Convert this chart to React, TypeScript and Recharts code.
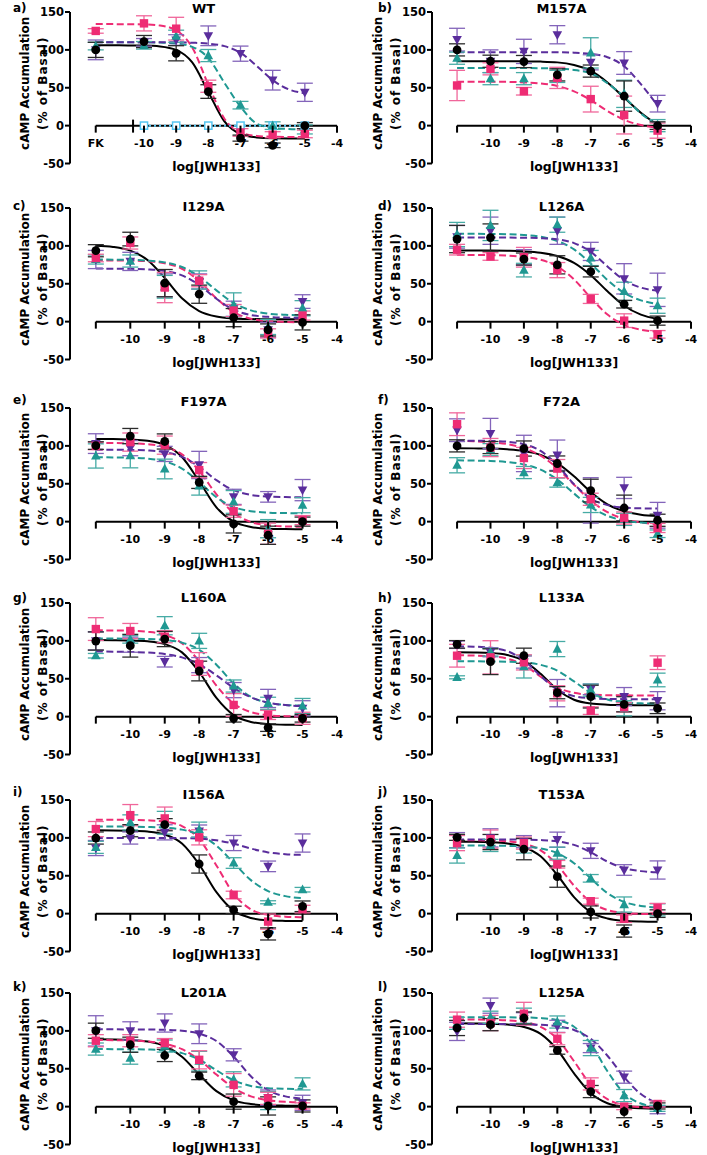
import React from 'react';
import { ComposedChart, Line, Scatter, XAxis, YAxis, ErrorBar, ReferenceLine } from 'recharts';

const FONT = '"DejaVu Sans", Verdana, sans-serif';

// log[JWH133] doses; in WT the first point is forskolin alone (FK)
const DOSES = [-11, -10, -9, -8, -7, -6, -5];
const WT_DOSES = [-11.5, -10, -9, -8, -7, -6, -5];
const FK_DOSES = [-10, -9, -8, -7, -6, -5];
const FK_VALUES = [0, 0, 0, 0, 0, 0];
const FIT_X = [-11, -10.5, -10, -9.5, -9, -8.5, -8, -7.5, -7, -6.5, -6, -5.5, -5];
const WT_FIT_X = [-11.5, -11, -10.5, -10, -9.5, -9, -8.5, -8, -7.5, -7, -6.5, -6, -5.5, -5];
const X_TICKS = [-11, -10, -9, -8, -7, -6, -5, -4];
const WT_X_TICKS = [-11.5, -10.34, -10, -9, -8, -7, -6, -5, -4];
const Y_TICKS = [-50, 0, 50, 100, 150];

// series order in every panel: black circles, pink squares, teal triangles, purple inverted triangles
const WT_MEAN = [
  [100, 111, 95.5, 45, -16.5, -26, 0],
  [125, 135, 128, 52, -9, -12, -11],
  [105, 106, 118, 92.5, 27, 0, -5],
  [100, 110, 113, 118.6, 95, 60, 44],
];
const WT_SEM = [
  [10, 8, 10, 9, 4, 3, 4],
  [3, 10, 15, 8, 5, 4, 5],
  [5, 5, 8, 8, 5, 5, 6],
  [13, 5, 7, 13, 10, 13, 12],
];
const WT_FIT = [
  [106, 106, 105.9, 105.7, 104.6, 100.1, 83.5, 44.5, 5.5, -11.1, -15.6, -16.8, -17, -17],
  [134, 134, 133.9, 133.6, 132.1, 125.8, 103.2, 54, 9.1, -8.8, -13.6, -14.7, -15, -15],
  [110, 110, 110, 110, 109.6, 108.4, 104, 89.3, 56.5, 25, 2.8, -3, -4.5, -5],
  [110, 110, 110, 110, 110, 110, 109.4, 108.3, 104.9, 96, 79, 60, 47.9, 42.7],
];

const M157A_MEAN = [
  [100, 85, 84.6, 67, 72, 39, 0],
  [53, 75, 45.4, 63, 35, 14, -6.6],
  [89, 62, 62, 65, 96, 42, 0],
  [113.5, 85, 98, 120, 83.6, 82.7, 29],
];
const M157A_SEM = [
  [8, 8, 8, 8, 8, 20, 5],
  [20, 8, 5, 14, 17, 25, 10],
  [8, 8, 8, 8, 20, 18, 8],
  [15, 15, 16, 12, 10, 15, 11],
];
const M157A_FIT = [
  [85, 85, 85, 85, 84.8, 84.5, 83.5, 80, 72.5, 57, 37, 17, 1],
  [58, 58, 58, 57.8, 57, 55.6, 52.3, 45.3, 33.6, 19.4, 7.7, 0.7, -2.6],
  [76, 76, 76, 76, 76, 75.8, 75.3, 73.5, 69, 56, 38, 16, 1],
  [97, 97, 97, 97, 97, 97, 96.8, 96.3, 94.7, 90.3, 78.3, 54.7, 26.5],
];

const I129A_MEAN = [
  [93.6, 109, 50.8, 36.2, 5.3, -11, -1],
  [84, 103.8, 45, 54, 14.6, -15.5, 8],
  [82, 80, 46, 55, 22, -7, 17.7],
  [82, 79.5, 48, 53, 17, -11, 26.5],
];
const I129A_SEM = [
  [8, 9, 18, 12, 12, 8, 10],
  [5, 8, 20, 8, 8, 6, 6],
  [6, 8, 15, 12, 16, 10, 10],
  [12, 12, 15, 10, 10, 10, 9],
];
const I129A_FIT = [
  [100.2, 98.6, 93.7, 81.3, 57.6, 30.9, 14, 6.7, 4.2, 3.4, 3.1, 3, 3],
  [80.9, 80.8, 80.6, 79.7, 77.1, 69.8, 53.6, 30.7, 12.6, 3.8, 0.6, -0.4, -0.8],
  [81.9, 81.8, 81.5, 80.6, 78.2, 72.1, 59.5, 41.2, 24.6, 14.9, 10.6, 9, 8.4],
  [70, 69.9, 69.7, 69, 66.9, 61.1, 48.3, 30.2, 15.8, 8.8, 6.3, 5.4, 5.1],
];

const L126A_MEAN = [
  [109, 111, 82.6, 75, 66, 23, 1.3],
  [95, 86, 85, 68, 30, 1.3, -16.8],
  [115, 127, 68, 128, 84, 40, 21],
  [112, 120, 85, 120, 92.7, 56.5, 42],
];
const L126A_SEM = [
  [18, 18, 8, 12, 7, 5, 6],
  [7, 5, 13, 10, 6, 9, 5],
  [16, 20, 9, 10, 10, 12, 10],
  [15, 18, 10, 18, 12, 20, 22],
];
const L126A_FIT = [
  [94, 93.9, 93.8, 93.5, 92.8, 91, 86.7, 77.6, 61.3, 40, 21, 9.2, 3.4],
  [88, 87.9, 87.7, 87.1, 85.4, 81.7, 72.9, 55.7, 31.5, 9.3, -4.3, -10.7, -13.4],
  [116, 115.9, 115.7, 115.3, 114.4, 112, 106.5, 95.3, 76.8, 55, 37.9, 28.1, 23.4],
  [111, 111, 110.9, 110.9, 110.7, 110.2, 108.6, 103.7, 92.1, 72.9, 54.8, 44.9, 40.9],
];

const F197A_MEAN = [
  [100.4, 113, 105.8, 51.8, -3, -18, 0],
  [100, 105, 101, 68, 13.7, -16, 2],
  [86.7, 87, 69.5, 47, 26, -9.3, 21.7],
  [103, 97, 89.4, 74.8, 32.7, 32.7, 41.6],
];
const F197A_SEM = [
  [5, 10, 10, 8, 12, 12, 6],
  [5, 12, 12, 10, 8, 14, 6],
  [16, 16, 13, 12, 15, 12, 10],
  [13, 10, 10, 18, 10, 7, 14],
];
const F197A_FIT = [
  [109, 109, 108.3, 106.7, 101.3, 85.3, 53.3, 18.8, -0.1, -7, -9.3, -9.8, -10],
  [104, 103.8, 103.4, 102.2, 98.7, 88.8, 66.9, 36, 11.4, -0.5, -4.8, -6.3, -6.8],
  [85, 84.8, 84.4, 83.2, 79.5, 70.1, 52.2, 32.1, 19.3, 13.8, 11.9, 11.3, 11.1],
  [95, 94.9, 94.6, 93.9, 91.7, 85.5, 72.3, 54.7, 41.5, 35.3, 33.1, 32.4, 32.1],
];

const F72A_MEAN = [
  [100, 97.8, 96.5, 76.7, 41, 18, 1.8],
  [128.6, 97.8, 84, 70, 29.5, 4.8, -8.4],
  [74.4, 95, 64.8, 51.5, 22, 3, -16],
  [120.7, 116.3, 90, 87.7, 28, 44.5, 8.4],
];
const F72A_SEM = [
  [8, 8, 10, 10, 15, 17, 8],
  [15, 12, 14, 12, 8, 8, 6],
  [10, 8, 8, 6, 10, 8, 5],
  [15, 20, 24, 20, 30, 14, 17],
];
const F72A_FIT = [
  [96.9, 96.7, 96.4, 95.4, 93.2, 88, 77.3, 59.8, 39.2, 22.9, 13.6, 9.2, 7.3],
  [106.6, 106, 104.9, 102.4, 97, 87.1, 70.5, 48.8, 27.7, 12.4, 3.5, -1.1, -3.2],
  [80.9, 80.6, 80.1, 78.7, 75.5, 68.6, 55.5, 37.1, 19.3, 7.6, 1.5, -1.2, -2.2],
  [107, 106.8, 106.5, 105.5, 102.2, 93.4, 74.6, 49.4, 30.6, 21.8, 18.5, 17.5, 17.2],
];

const L160A_MEAN = [
  [99.8, 93.6, 102.4, 60.2, -2.2, -14.5, -2.2],
  [115.6, 113, 105.5, 69.5, 15.4, 2.2, -2.2],
  [80.4, 102, 120, 100, 40.4, 17.6, 14],
  [100, 95, 72.5, 68, 35, 24, 11],
];
const L160A_SEM = [
  [12, 15, 10, 13, 5, 5, 5],
  [15, 10, 8, 15, 15, 6, 8],
  [3, 5, 12, 10, 8, 8, 10],
  [12, 10, 7, 10, 10, 12, 10],
];
const L160A_FIT = [
  [101, 100.9, 100.6, 99.5, 95.8, 84.8, 58.9, 24.7, 2, -7, -9.9, -10.7, -10.9],
  [113.9, 113.8, 113.4, 112, 108, 96.8, 73, 41, 17.2, 6, 1.9, 0.6, 0.2],
  [103, 103, 102.8, 102.5, 101.2, 97.7, 88.2, 68.6, 43.7, 26.2, 18.3, 15.4, 14.5],
  [85.9, 85.8, 85.4, 84.6, 82.6, 78.2, 69, 54.5, 38.1, 25.6, 18.6, 15.3, 13.9],
];

const L133A_MEAN = [
  [95.4, 72.5, 80.4, 31.6, 26.4, 16.3, 11],
  [80.4, 78.2, 71.6, 30.8, 7.9, 12.3, 71.2],
  [51.9, 85, 66, 89.2, 35, 11, 48.4],
  [95, 85, 72, 31, 36, 26.4, 21],
];
const L133A_SEM = [
  [5, 17, 10, 8, 15, 10, 7],
  [15, 22, 10, 10, 5, 6, 9],
  [2, 5, 15, 10, 8, 10, 9],
  [5, 6, 8, 18, 7, 12, 12],
];
const L133A_FIT = [
  [85, 84.7, 84, 81.4, 73.7, 56.6, 35.4, 22.3, 17.2, 15.7, 15.2, 15.1, 15],
  [81, 80.6, 79.7, 76.6, 68.2, 52.8, 38.5, 31.4, 29, 28.3, 28.1, 28, 28],
  [73, 73, 72.8, 72.5, 71.5, 68.4, 60.7, 46.6, 31.7, 22.7, 18.9, 17.6, 17.2],
  [92.8, 92.4, 91, 86.5, 74.4, 53.6, 35.6, 27.1, 24.2, 23.3, 23.1, 23, 23],
];

const I156A_MEAN = [
  [99.8, 109.5, 117.4, 65.5, 4.8, -26.8, 9.7],
  [111.6, 130, 125.7, 100.7, 24.6, -10.5, 6],
  [87.5, 120.4, 120, 110.8, 66.8, 15, 31.6],
  [86.6, 99.8, 107.3, 109, 93.2, 62.4, 93.2],
];
const I156A_SEM = [
  [8, 8, 8, 12, 5, 8, 7],
  [10, 14, 15, 10, 5, 10, 5],
  [8, 10, 15, 10, 7, 2, 3],
  [10, 8, 10, 8, 10, 7, 12],
];
const I156A_FIT = [
  [110, 109.9, 109.5, 108.4, 104.5, 92.6, 64.9, 28.3, 3.9, -5.7, -8.8, -9.6, -9.9],
  [124, 124, 123.8, 123.2, 121.5, 115.6, 98.3, 63.6, 26.2, 5.7, -1.8, -4, -4.7],
  [115, 115, 114.8, 114.4, 113.5, 110.9, 104.2, 89.8, 67, 44.2, 29.8, 23.1, 20.5],
  [100, 100, 100, 100, 99.9, 99.6, 98.9, 96.8, 92.3, 85.9, 80.8, 78.4, 77.5],
];

const T153A_MEAN = [
  [100.7, 94.5, 85.1, 48.8, 2.2, -23, 0],
  [93.1, 98.4, 93.1, 65.2, 16.4, -6.7, 7.5],
  [76.7, 90, 90, 79.8, 46.6, 12, 5],
  [97, 100, 95, 97.6, 82.9, 57.6, 57.6],
];
const T153A_SEM = [
  [4, 10, 14, 14, 8, 8, 5],
  [10, 12, 8, 5, 4, 5, 6],
  [10, 8, 10, 8, 5, 10, 8],
  [10, 12, 8, 10, 10, 7, 12],
];
const T153A_FIT = [
  [94.9, 94.8, 94.3, 92.7, 88, 75.6, 51, 21.8, 2.1, -6.4, -9.5, -10.5, -10.8],
  [97, 96.8, 96.5, 95.4, 92.3, 83.6, 64.3, 36.9, 15.3, 4.8, 1, -0.4, -0.8],
  [90, 89.9, 89.8, 89.5, 88.6, 86.1, 79.8, 66.6, 46.5, 27.1, 15.5, 10.2, 8.2],
  [98, 98, 98, 98, 97.7, 97.1, 95.4, 90.7, 81, 68.7, 60, 56.1, 54.7],
];

const L201A_MEAN = [
  [100.2, 81.7, 67.5, 40.6, 6.6, 0.9, 0.9],
  [87, 87, 83.9, 61.8, 28.7, 11, 1],
  [76, 64, 80, 60, 36, 8, 30],
  [100, 100, 110.4, 96.2, 68.4, 12, 5],
];
const L201A_SEM = [
  [10, 10, 8, 5, 10, 12, 8],
  [8, 8, 6, 12, 15, 8, 4],
  [8, 8, 8, 13, 10, 12, 8],
  [20, 12, 12, 13, 8, 10, 10],
];
const L201A_FIT = [
  [88.9, 88.7, 88, 86, 80, 65.9, 42.5, 20.4, 8.2, 3.4, 1.8, 1.3, 1.1],
  [87.9, 87.7, 87.3, 86, 82.9, 75.8, 61.9, 42.4, 24.6, 13.6, 8.5, 6.3, 5.5],
  [76, 75.9, 75.8, 75.4, 74.2, 70.6, 62.1, 48, 34.7, 27.3, 24.4, 23.5, 23.2],
  [102, 102, 101.9, 101.8, 101.4, 100.1, 96.5, 86.6, 66, 40.1, 21.7, 13.5, 10.5],
];

const L125A_MEAN = [
  [103.8, 108.2, 117, 74.2, 19.9, -6.6, 0.9],
  [114.8, 110.4, 122.7, 89.6, 30, 0, 3.5],
  [110, 118, 120, 111.7, 77.3, 14.6, -2.2],
  [99.3, 133.3, 116, 106, 77.3, 38.9, -4.4],
];
const L125A_SEM = [
  [10, 8, 8, 5, 8, 8, 4],
  [10, 10, 15, 8, 8, 4, 4],
  [8, 8, 10, 8, 10, 8, 4],
  [12, 10, 8, 8, 6, 8, 5],
];
const L125A_FIT = [
  [110, 109.8, 109.5, 108.4, 105.1, 96, 75.1, 43.9, 17.7, 4.5, -0.5, -2.2, -2.7],
  [115, 114.9, 114.7, 114, 111.8, 105.4, 89.3, 59.9, 28.7, 9.8, 2, -0.7, -1.6],
  [118, 118, 118, 117.9, 117.7, 116.9, 114.2, 105.5, 83, 46.7, 17.4, 4.1, -0.2],
  [109, 109, 108.95, 108.9, 108.6, 108, 106.1, 101.2, 89.5, 67.2, 38.9, 16.6, 4.8],
];

const PANELS = [
  { letter: 'a)', title: 'WT', fk: true, doses: WT_DOSES, fitX: WT_FIT_X, mean: WT_MEAN, sem: WT_SEM, fit: WT_FIT },
  { letter: 'b)', title: 'M157A', fk: false, doses: DOSES, fitX: FIT_X, mean: M157A_MEAN, sem: M157A_SEM, fit: M157A_FIT },
  { letter: 'c)', title: 'I129A', fk: false, doses: DOSES, fitX: FIT_X, mean: I129A_MEAN, sem: I129A_SEM, fit: I129A_FIT },
  { letter: 'd)', title: 'L126A', fk: false, doses: DOSES, fitX: FIT_X, mean: L126A_MEAN, sem: L126A_SEM, fit: L126A_FIT },
  { letter: 'e)', title: 'F197A', fk: false, doses: DOSES, fitX: FIT_X, mean: F197A_MEAN, sem: F197A_SEM, fit: F197A_FIT },
  { letter: 'f)', title: 'F72A', fk: false, doses: DOSES, fitX: FIT_X, mean: F72A_MEAN, sem: F72A_SEM, fit: F72A_FIT },
  { letter: 'g)', title: 'L160A', fk: false, doses: DOSES, fitX: FIT_X, mean: L160A_MEAN, sem: L160A_SEM, fit: L160A_FIT },
  { letter: 'h)', title: 'L133A', fk: false, doses: DOSES, fitX: FIT_X, mean: L133A_MEAN, sem: L133A_SEM, fit: L133A_FIT },
  { letter: 'i)', title: 'I156A', fk: false, doses: DOSES, fitX: FIT_X, mean: I156A_MEAN, sem: I156A_SEM, fit: I156A_FIT },
  { letter: 'j)', title: 'T153A', fk: false, doses: DOSES, fitX: FIT_X, mean: T153A_MEAN, sem: T153A_SEM, fit: T153A_FIT },
  { letter: 'k)', title: 'L201A', fk: false, doses: DOSES, fitX: FIT_X, mean: L201A_MEAN, sem: L201A_SEM, fit: L201A_FIT },
  { letter: 'l)', title: 'L125A', fk: false, doses: DOSES, fitX: FIT_X, mean: L125A_MEAN, sem: L125A_SEM, fit: L125A_FIT },
];

const COLORS = ['#000000', '#EE2C74', '#1F9892', '#5A2D9C'];
const BAR_COLORS = ['#2b2b2b', '#F0669A', '#46ABA5', '#8364BA'];
const FK_COLOR = '#56C6F2';

// layout (px)
const ROW_TOP = [11.5, 207.7, 408, 603, 799.7, 993.3]; // y of the 150 tick per row
const TITLE_DY = [4, 1.5, 7.5, 6.5, 6, 1.5];
const LETTER_DY = [3.5, 1.7, 8, 5, 7.7, 6.6];
const MT = 12;
const PH = 151.5;
const XH = 26;
const MR = 16;
const H = MT + PH + XH;
const Y0 = MT + PH * 0.75; // pixel row of y = 0 inside a panel

const textStyle = { fontFamily: FONT, fontWeight: 700, fill: '#000' };

const shapes = [
  (p: any) => <circle cx={p.cx} cy={p.cy} r={4.4} fill={COLORS[0]} />,
  (p: any) => <rect x={p.cx - 4.2} y={p.cy - 4.2} width={8.4} height={8.4} fill={COLORS[1]} />,
  (p: any) => (
    <polygon points={`${p.cx},${p.cy - 5.2} ${p.cx + 4.8},${p.cy + 3.6} ${p.cx - 4.8},${p.cy + 3.6}`} fill={COLORS[2]} />
  ),
  (p: any) => (
    <polygon points={`${p.cx},${p.cy + 5.2} ${p.cx + 4.8},${p.cy - 3.6} ${p.cx - 4.8},${p.cy - 3.6}`} fill={COLORS[3]} />
  ),
];
const openSquare = (p: any) => (
  <rect x={p.cx - 3.6} y={p.cy - 3.6} width={7.2} height={7.2} fill="#fff" stroke={FK_COLOR} strokeWidth={1.5} />
);

function XTick({ x, payload, fk }: any) {
  const v = payload.value;
  const isBreak = fk && v === -10.34;
  let label = String(v);
  if (fk && v === -11.5) label = 'FK';
  if (v === -11 || isBreak) label = '';
  return (
    <g>
      <line x1={x} x2={x} y1={isBreak ? Y0 - 6 : Y0} y2={Y0 + 7} stroke="#000" strokeWidth={2} />
      {label && (
        <text x={x} y={Y0 + 18} textAnchor="middle" dominantBaseline="central" fontSize={11} {...textStyle}>
          {label}
        </text>
      )}
    </g>
  );
}

function XLabel({ centerX }: any) {
  return (
    <text x={centerX} y={MT + PH + 3} textAnchor="middle" dominantBaseline="central" fontSize={12.5} {...textStyle}>
      log[JWH133]
    </text>
  );
}

function YLabel() {
  const cy = MT + PH / 2 - 4.5;
  return (
    <g>
      <text x={25} y={cy} transform={`rotate(-90, 25, ${cy})`} textAnchor="middle" dominantBaseline="central" fontSize={12} {...textStyle}>
        cAMP Accumulation
      </text>
      <text x={43} y={cy} transform={`rotate(-90, 43, ${cy})`} textAnchor="middle" dominantBaseline="central" fontSize={12} letterSpacing={1} {...textStyle}>
        (% of Basal)
      </text>
    </g>
  );
}

function Panel({ p, index }: any) {
  const col = index % 2;
  const row = Math.floor(index / 2);
  const W = col === 0 ? 353 : 354;
  const yw = col === 0 ? 70 : 79;
  const left = col === 0 ? 0 : 353;
  const top = ROW_TOP[row] - MT;
  const xDomain = p.fk ? [-12.3, -4] : [-11.75, -4];
  const axisStart = p.fk ? -11.5 : -11;
  const plotW = W - yw - MR;
  const mid = (axisStart - 4) / 2;
  const labelX = yw + ((mid - xDomain[0]) / (xDomain[1] - xDomain[0])) * plotW;

  const points = p.mean.map((m: number[], s: number) =>
    p.doses.map((x: number, i: number) => ({ x, y: m[i], e: p.sem[s][i] }))
  );
  const fits = p.fit.map((f: number[]) => p.fitX.map((x: number, i: number) => ({ x, y: f[i] })));
  const fkRows = FK_DOSES.map((x, i) => ({ x, y: FK_VALUES[i] }));

  return (
    <>
      <div style={{ position: 'absolute', left, top, width: W, height: H }}>
        <ComposedChart width={W} height={H} margin={{ top: MT, right: MR, bottom: 0, left: 0 }}>
          <XAxis
            type="number"
            dataKey="x"
            domain={xDomain}
            ticks={p.fk ? WT_X_TICKS : X_TICKS}
            interval={0}
            allowDataOverflow
            axisLine={false}
            tickLine={false}
            height={XH}
            tick={(t: any) => <XTick {...t} fk={p.fk} />}
            label={<XLabel centerX={labelX} />}
          />
          <YAxis
            type="number"
            dataKey="y"
            domain={[-50, 150]}
            ticks={Y_TICKS}
            allowDataOverflow
            width={yw}
            axisLine={{ stroke: '#000', strokeWidth: 2 }}
            tickLine={{ stroke: '#000', strokeWidth: 2 }}
            tickSize={5}
            tickMargin={1}
            tick={{ fontSize: 11.5, ...textStyle }}
            label={<YLabel />}
          />
          <ReferenceLine
            segment={[
              { x: axisStart, y: 0 },
              { x: -4, y: 0 },
            ]}
            stroke="#000"
            strokeWidth={2}
          />
          {fits.map((rows: any[], s: number) => (
            <Line
              key={`fit${s}`}
              data={rows}
              dataKey="y"
              type="monotone"
              stroke={COLORS[s]}
              strokeWidth={2}
              strokeDasharray={s === 0 ? undefined : '7 3.5'}
              dot={false}
              activeDot={false}
              isAnimationActive={false}
            />
          ))}
          {p.fk && (
            <Line
              data={fkRows}
              dataKey="y"
              type="linear"
              stroke={FK_COLOR}
              strokeWidth={2}
              strokeDasharray="2 3"
              dot={false}
              activeDot={false}
              isAnimationActive={false}
            />
          )}
          {p.fk && <Scatter data={fkRows} shape={openSquare} isAnimationActive={false} />}
          {[3, 2, 1, 0].map((s) => (
            <Scatter key={`pts${s}`} data={points[s]} shape={shapes[s]} isAnimationActive={false}>
              <ErrorBar dataKey="e" direction="y" width={8} stroke={BAR_COLORS[s]} strokeWidth={1.3} isAnimationActive={false} />
            </Scatter>
          ))}
        </ComposedChart>
      </div>
      <div
        style={{
          position: 'absolute',
          left: col === 0 ? 13 : 378,
          top: ROW_TOP[row] - LETTER_DY[row],
          transform: 'translateY(-50%)',
          fontFamily: FONT,
          fontWeight: 700,
          fontSize: 12,
          lineHeight: 1,
        }}
      >
        {p.letter}
      </div>
      <div
        style={{
          position: 'absolute',
          left: left + yw + plotW / 2,
          top: ROW_TOP[row] - TITLE_DY[row],
          transform: 'translate(-50%, -50%)',
          fontFamily: FONT,
          fontWeight: 700,
          fontSize: 13,
          lineHeight: 1,
          whiteSpace: 'nowrap',
        }}
      >
        {p.title}
      </div>
    </>
  );
}

export default function App() {
  return (
    <div style={{ position: 'absolute', left: 0, top: 0, width: 707, height: 1155, background: '#fff', overflow: 'hidden' }}>
      {PANELS.map((p, i) => (
        <Panel key={p.title} p={p} index={i} />
      ))}
    </div>
  );
}
